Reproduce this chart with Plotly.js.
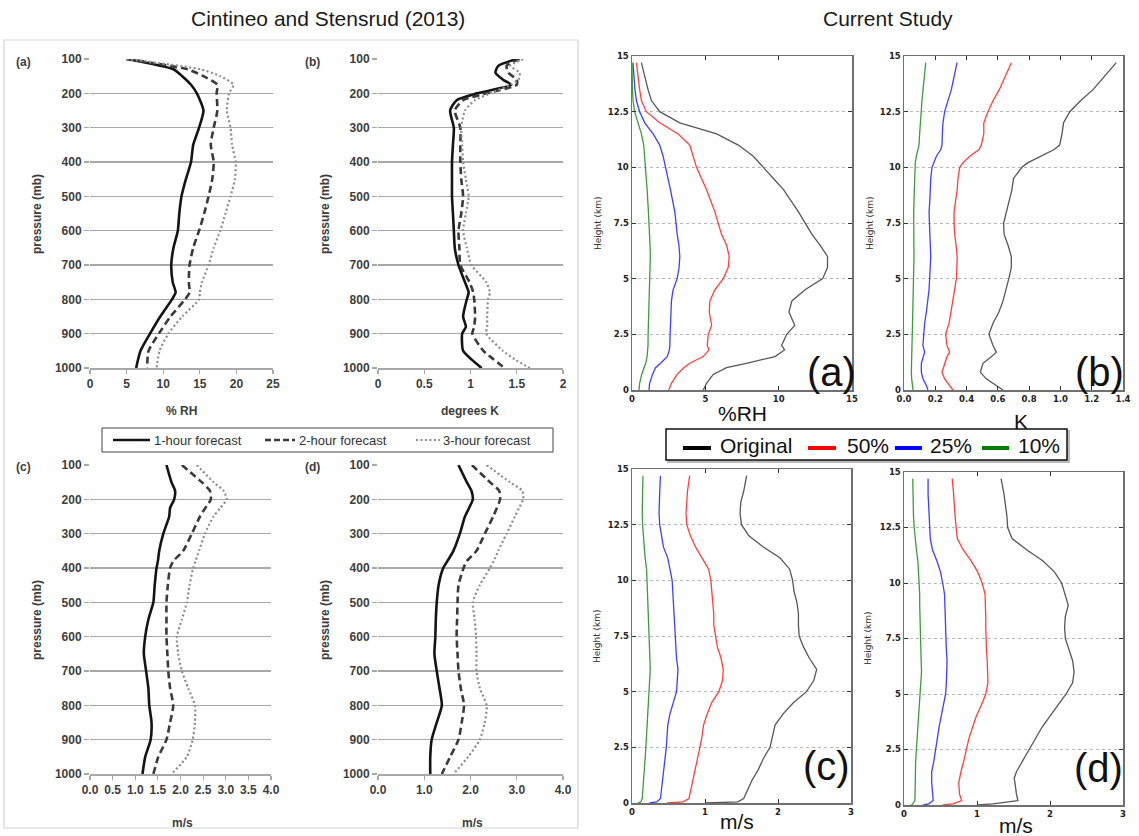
<!DOCTYPE html>
<html>
<head>
<meta charset="utf-8">
<script src="https://cdn.plot.ly/plotly-3.0.1.min.js"></script>
<style>
html,body{margin:0;padding:0;background:#fff;}
#chart{width:1139px;height:836px;}
</style>
</head>
<body>
<div id="chart"></div>
<script>
// ---------------- DATA ----------------
// Cintineo and Stensrud (2013) panels: pressure levels (mb)
const presRH = [100,130,150,175,200,250,300,350,400,450,500,550,600,650,700,750,780,800,850,900,950,1000];
const rh1h = [5.0,11.4,12.6,13.8,14.6,15.5,14.9,14.1,13.8,13.1,12.5,12.2,12.0,11.4,11.1,11.3,11.7,11.2,9.6,8.2,6.9,6.3];
const rh2h = [5.0,13.3,15.5,17.4,17.3,17.4,16.9,16.5,16.9,16.7,16.2,15.6,14.9,14.1,13.6,13.5,13.6,13.0,11.0,9.4,8.0,7.8];
const rh3h = [5.0,15.1,17.8,19.6,19.0,18.7,19.2,19.4,19.9,19.8,19.2,18.5,17.8,16.9,16.2,15.3,15.0,14.9,12.6,10.7,9.5,9.1];

const presK = [100,120,140,160,175,200,220,250,300,350,400,450,500,550,600,650,700,750,780,800,850,880,900,950,975,1000];
const k1h = [1.50,1.30,1.27,1.35,1.44,1.07,0.85,0.78,0.82,0.81,0.80,0.80,0.80,0.81,0.82,0.83,0.87,0.94,0.98,0.96,0.92,0.95,0.91,0.92,1.01,1.12];
const k2h = [1.53,1.39,1.41,1.50,1.50,1.17,0.92,0.83,0.89,0.89,0.89,0.90,0.92,0.90,0.87,0.88,0.89,0.99,1.03,1.04,1.05,1.04,1.02,1.14,1.25,1.37];
const k3h = [1.57,1.43,1.53,1.52,1.43,1.21,1.05,0.94,0.90,0.91,0.92,0.95,0.98,0.95,0.92,0.96,1.01,1.17,1.21,1.19,1.18,1.18,1.17,1.35,1.48,1.64];

const presWC = [100,150,175,200,225,250,300,350,380,400,450,500,550,600,650,700,750,800,850,900,950,1000];
const wc1h = [1.69,1.80,1.88,1.86,1.77,1.75,1.62,1.53,1.50,1.47,1.43,1.40,1.29,1.22,1.19,1.24,1.29,1.31,1.36,1.34,1.22,1.16];
const wc2h = [2.03,2.47,2.65,2.67,2.55,2.43,2.25,2.06,1.84,1.77,1.72,1.69,1.69,1.69,1.71,1.73,1.77,1.84,1.77,1.69,1.51,1.40];
const wc3h = [2.36,2.73,2.95,3.02,2.88,2.73,2.54,2.41,2.33,2.28,2.20,2.14,2.03,1.92,1.95,2.03,2.17,2.32,2.32,2.27,2.14,1.80];

const presWD = [100,150,175,200,225,250,300,350,380,400,450,500,550,600,650,700,750,800,850,900,950,1000];
const wd1h = [1.74,1.92,2.02,2.05,1.97,1.88,1.77,1.63,1.50,1.41,1.31,1.27,1.25,1.24,1.22,1.27,1.33,1.38,1.27,1.16,1.13,1.13];
const wd2h = [2.03,2.42,2.62,2.64,2.57,2.49,2.31,2.13,1.92,1.85,1.74,1.72,1.71,1.70,1.72,1.74,1.79,1.86,1.81,1.74,1.56,1.38];
const wd3h = [2.35,2.85,3.12,3.14,3.05,2.96,2.78,2.60,2.50,2.42,2.20,2.05,2.09,2.12,2.13,2.13,2.20,2.35,2.31,2.20,1.95,1.63];

const forecastNames = ["1-hour forecast","2-hour forecast","3-hour forecast"];

// Current Study panels: height (km)
const hRH = [0,0.3,0.7,1,1.2,1.5,1.8,2,2.5,2.9,3.5,4,4.5,5,5.5,6,6.5,7,8,9,9.5,10,10.5,11,11.5,12,12.5,13,13.5,14.7];
const rhOrig = [4.86,5.08,5.54,6.45,7.8,9.75,10.4,10.2,10.55,11.1,10.7,10.9,11.8,13.0,13.33,13.33,12.83,12.26,11.35,10.33,9.64,8.96,8.27,7.25,5.77,3.26,1.89,1.32,1.09,0.64];
const rh50 = [2.51,2.69,3.08,3.53,3.94,4.85,5.25,5.13,5.2,5.43,5.27,5.31,5.65,6.22,6.56,6.63,6.45,6.1,5.65,5.08,4.74,4.4,4.17,3.94,3.15,1.89,0.98,0.64,0.52,0.3];
const rh25 = [1.16,1.2,1.4,1.6,1.95,2.4,2.55,2.58,2.6,2.64,2.66,2.69,2.8,3.08,3.21,3.26,3.2,3.08,2.92,2.62,2.45,2.3,2.12,1.89,1.44,0.87,0.52,0.3,0.2,0.07];
const rh10 = [0.48,0.52,0.66,0.82,0.93,1.03,1.07,1.09,1.1,1.12,1.13,1.14,1.18,1.21,1.23,1.25,1.23,1.21,1.12,1.03,0.98,0.93,0.87,0.8,0.64,0.41,0.18,0.07,0.03,0.0];

const hK = [0,0.2,0.5,0.8,1.2,1.5,1.7,2,2.5,3,3.5,4,4.5,5,5.5,6,6.5,7,7.5,8,8.5,9,9.5,10,10.2,10.5,10.8,11,11.5,12,12.5,13,13.5,14.7];
const kOrig = [0.633,0.59,0.526,0.488,0.505,0.56,0.59,0.569,0.543,0.569,0.607,0.633,0.654,0.67,0.686,0.686,0.665,0.64,0.637,0.654,0.675,0.69,0.70,0.754,0.79,0.87,0.96,0.995,1.01,1.02,1.06,1.13,1.21,1.357];
const k50 = [0.313,0.292,0.26,0.243,0.26,0.275,0.292,0.275,0.266,0.288,0.30,0.313,0.324,0.335,0.338,0.34,0.333,0.324,0.32,0.32,0.33,0.34,0.345,0.356,0.377,0.42,0.48,0.494,0.51,0.51,0.537,0.57,0.61,0.686];
const k25 = [0.153,0.143,0.121,0.111,0.111,0.125,0.132,0.121,0.125,0.132,0.143,0.153,0.16,0.164,0.168,0.171,0.168,0.164,0.162,0.16,0.165,0.168,0.171,0.179,0.19,0.207,0.235,0.243,0.245,0.249,0.26,0.281,0.303,0.339];
const k10 = [0.058,0.053,0.049,0.047,0.047,0.049,0.05,0.051,0.053,0.055,0.056,0.058,0.06,0.062,0.063,0.064,0.063,0.062,0.062,0.062,0.064,0.066,0.067,0.068,0.072,0.079,0.09,0.096,0.1,0.104,0.108,0.115,0.122,0.139];

const hWC = [0,0.05,0.2,0.5,1,1.5,2,2.5,3,3.5,4,4.5,5,5.5,6,6.5,7,7.5,8,8.5,9,9.5,10,10.5,11,11.5,12,12.5,13,13.5,14,14.7];
const wcOrig = [1.0,1.45,1.53,1.57,1.64,1.73,1.80,1.89,1.93,1.96,2.07,2.21,2.39,2.49,2.53,2.43,2.35,2.29,2.28,2.28,2.26,2.22,2.20,2.16,2.03,1.80,1.60,1.50,1.48,1.49,1.53,1.57];
const wc50 = [0.48,0.70,0.78,0.80,0.84,0.87,0.90,0.93,0.96,0.98,1.03,1.09,1.19,1.24,1.25,1.22,1.17,1.14,1.12,1.12,1.11,1.10,1.08,1.05,0.96,0.87,0.80,0.75,0.74,0.745,0.76,0.79];
const wc25 = [0.24,0.34,0.39,0.40,0.42,0.44,0.46,0.47,0.48,0.49,0.52,0.57,0.61,0.62,0.63,0.61,0.60,0.59,0.58,0.575,0.57,0.56,0.55,0.52,0.49,0.43,0.40,0.38,0.37,0.37,0.38,0.39];
const wc10 = [0.08,0.12,0.14,0.145,0.16,0.17,0.18,0.19,0.20,0.205,0.21,0.225,0.24,0.245,0.25,0.245,0.24,0.235,0.23,0.225,0.22,0.215,0.21,0.20,0.18,0.165,0.15,0.145,0.14,0.145,0.15,0.15];

const hWD = [0,0.05,0.2,0.5,1,1.2,1.5,2,2.5,3,3.5,4,4.5,5,5.5,6,6.5,7,7.5,8,8.5,9,9.5,10,10.5,11,11.5,12,12.5,13,14,14.7];
const wdOrig = [1.01,1.22,1.56,1.54,1.52,1.51,1.54,1.63,1.72,1.80,1.89,2.00,2.11,2.22,2.31,2.33,2.31,2.26,2.21,2.20,2.21,2.25,2.21,2.16,2.06,1.90,1.68,1.48,1.42,1.41,1.37,1.33];
const wd50 = [0.53,0.67,0.79,0.76,0.75,0.76,0.78,0.82,0.85,0.89,0.94,0.99,1.06,1.12,1.15,1.15,1.14,1.13,1.12,1.12,1.12,1.12,1.11,1.07,1.01,0.92,0.81,0.73,0.71,0.70,0.68,0.66];
const wd25 = [0.26,0.34,0.40,0.39,0.38,0.38,0.38,0.41,0.43,0.45,0.48,0.51,0.54,0.57,0.58,0.59,0.59,0.58,0.575,0.57,0.565,0.56,0.555,0.53,0.50,0.45,0.39,0.36,0.35,0.34,0.33,0.33];
const wd10 = [0.10,0.12,0.15,0.15,0.15,0.15,0.155,0.16,0.17,0.18,0.19,0.20,0.21,0.22,0.23,0.24,0.235,0.23,0.225,0.22,0.22,0.215,0.215,0.21,0.20,0.19,0.17,0.15,0.14,0.13,0.125,0.12];

const studyNames = ["Original","50%","25%","10%"];

// ---------------- HELPERS ----------------
const W = 1139, H = 836;
const X = v => v / W;
const Y = v => 1 - v / H;

const leftStyles = [
  {color:'#141414', width:2.6},
  {color:'#3a3a3a', width:2.6, dash:'7px,4px'},
  {color:'#8c8c8c', width:2.2, dash:'2px,2.5px'}
];
const rightColors = ['#454545','#ff2a2a','#2a2aff','#2a8f2a'];

const traces = [];
function addLeft(idx, pres, series){
  series.forEach((s,j)=>{
    traces.push({
      x:s, y:pres, xaxis:'x'+(idx===1?'':idx), yaxis:'y'+(idx===1?'':idx),
      type:'scatter', mode:'lines', name:forecastNames[j], showlegend:false,
      line:Object.assign({shape:'spline', smoothing:0.6}, leftStyles[j]), hoverinfo:'skip'
    });
  });
}
function addRight(idx, h, series){
  series.forEach((s,j)=>{
    traces.push({
      x:s, y:h, xaxis:'x'+idx, yaxis:'y'+idx,
      type:'scatter', mode:'lines', name:studyNames[j], showlegend:false,
      line:{color:rightColors[j], width:1.3}, opacity:0.9, hoverinfo:'skip'
    });
  });
}
addLeft(1, presRH, [rh1h, rh2h, rh3h]);
addLeft(2, presK,  [k1h, k2h, k3h]);
addLeft(3, presWC, [wc1h, wc2h, wc3h]);
addLeft(4, presWD, [wd1h, wd2h, wd3h]);
addRight(5, hRH, [rhOrig, rh50, rh25, rh10]);
addRight(6, hK,  [kOrig, k50, k25, k10]);
addRight(7, hWC, [wcOrig, wc50, wc25, wc10]);
addRight(8, hWD, [wdOrig, wd50, wd25, wd10]);

// ---------------- AXES ----------------
const leftFont = {family:'Liberation Sans, Arial, sans-serif', size:12, color:'#3d3d3d', weight:'bold'};
const gridGray = '#a8a8a8';
function leftY(y0, y1, anchor){
  return {domain:[Y(y1), Y(y0)], range:[1000,100], autorange:false, tick0:100, dtick:100,
    showgrid:true, gridcolor:gridGray, gridwidth:1.6, zeroline:false, showline:false,
    ticks:'outside', ticklen:5, tickwidth:1.4, tickcolor:gridGray, tickfont:leftFont,
    anchor:anchor, fixedrange:true};
}
function leftX(x0, x1, range, dtick, fmt, anchor){
  const o = {domain:[X(x0), X(x1)], range:range, autorange:false, tick0:0, dtick:dtick,
    showgrid:false, zeroline:false, showline:true, linecolor:gridGray, linewidth:1.6,
    ticks:'outside', ticklen:4, tickwidth:1.2, tickcolor:gridGray, tickfont:leftFont,
    anchor:anchor, fixedrange:true};
  if (fmt) o.tickformat = fmt;
  return o;
}
const rightFont = {family:'DejaVu Sans, sans-serif', size:8.5, color:'#222', weight:'bold'};
function rightX(x0, x1, range, dtick, fmt, anchor){
  const o = {domain:[X(x0), X(x1)], range:range, autorange:false, tick0:0, dtick:dtick,
    showgrid:false, zeroline:false, showline:true, mirror:'ticks', linecolor:'#707070', linewidth:1.5,
    ticks:'inside', ticklen:4, tickwidth:1, tickcolor:'#333', tickfont:rightFont,
    anchor:anchor, fixedrange:true};
  if (fmt) o.tickformat = fmt;
  return o;
}
function rightY(y0, y1, anchor){
  return {domain:[Y(y1), Y(y0)], range:[0,15], autorange:false, tick0:0, dtick:2.5,
    showgrid:true, gridcolor:'#b8b8b8', griddash:'dot', gridwidth:1,
    zeroline:false, showline:true, mirror:'ticks', linecolor:'#707070', linewidth:1.5,
    ticks:'inside', ticklen:4, tickwidth:1, tickcolor:'#333', tickfont:rightFont,
    anchor:anchor, fixedrange:true};
}

// ---------------- ANNOTATIONS ----------------
const annotations = [];
function ann(text, x, y, font, extra){
  annotations.push(Object.assign({text:text, x:X(x), y:Y(y), xref:'paper', yref:'paper',
    showarrow:false, xanchor:'center', yanchor:'middle', font:font}, extra||{}));
}
const titleFont = {family:'Liberation Sans, Arial, sans-serif', size:21, color:'#1a1a1a'};
ann('Cintineo and Stensrud (2013)', 328, 19, titleFont);
ann('Current Study', 888, 19, titleFont);

const lblFont = {family:'Liberation Sans, Arial, sans-serif', size:12, color:'#3d3d3d', weight:'bold'};
ann('(a)', 23, 62, lblFont);
ann('(b)', 312, 62, lblFont);
ann('(c)', 23, 467, lblFont);
ann('(d)', 312, 467, lblFont);
ann('pressure (mb)', 37, 214, lblFont, {textangle:-90});
ann('pressure (mb)', 325, 214, lblFont, {textangle:-90});
ann('pressure (mb)', 37, 620, lblFont, {textangle:-90});
ann('pressure (mb)', 325, 620, lblFont, {textangle:-90});
ann('% RH', 181, 411, lblFont);
ann('degrees K', 470, 411, lblFont);
ann('m/s', 182, 823, lblFont);
ann('m/s', 472, 823, lblFont);

const hFont = {family:'DejaVu Sans, sans-serif', size:9, color:'#333'};
ann('Height (km)', 598, 223, hFont, {textangle:-90});
ann('Height (km)', 870, 223, hFont, {textangle:-90});
ann('Height (km)', 597, 636, hFont, {textangle:-90});
ann('Height (km)', 868, 638, hFont, {textangle:-90});

const bigFont = {family:'Liberation Sans, Arial, sans-serif', size:21, color:'#111'};
ann('%RH', 742, 413, bigFont);
ann('K', 1021, 421, bigFont);
ann('m/s', 737, 821, bigFont);
ann('m/s', 1016, 825, bigFont);

const panelFont = {family:'Liberation Sans, Arial, sans-serif', size:40, color:'#111'};
ann('(a)', 831, 372, panelFont);
ann('(b)', 1099, 372, panelFont);
ann('(c)', 826, 766, panelFont);
ann('(d)', 1098, 768, panelFont);

// Legend texts
const legLFont = {family:'Liberation Sans, Arial, sans-serif', size:13, color:'#333'};
ann(forecastNames[0], 152, 440, legLFont, {xanchor:'left'});
ann(forecastNames[1], 297, 440, legLFont, {xanchor:'left'});
ann(forecastNames[2], 441, 440, legLFont, {xanchor:'left'});
const legRFont = {family:'Liberation Sans, Arial, sans-serif', size:21, color:'#111'};
ann(studyNames[0], 718, 446, legRFont, {xanchor:'left'});
ann(studyNames[1], 845, 446, legRFont, {xanchor:'left'});
ann(studyNames[2], 928, 446, legRFont, {xanchor:'left'});
ann(studyNames[3], 1016, 446, legRFont, {xanchor:'left'});

// ---------------- SHAPES (frames and legend keys) ----------------
const shapes = [];
function rect(x0,y0,x1,y1,line,fill){
  shapes.push({type:'rect', xref:'paper', yref:'paper', x0:X(x0), x1:X(x1), y0:Y(y1), y1:Y(y0),
    line:line, fillcolor:fill||'rgba(0,0,0,0)', layer:'below'});
}
function seg(x0,x1,y,line){
  shapes.push({type:'line', xref:'paper', yref:'paper', x0:X(x0), x1:X(x1), y0:Y(y), y1:Y(y), line:line});
}
// frame round the left reproduction
rect(4, 40, 578, 828, {color:'#d4d4d4', width:1.2});
// left legend
shapes.push({type:'rect', xref:'paper', yref:'paper', x0:X(102), x1:X(553), y0:Y(452), y1:Y(428),
  line:{color:'#444', width:1}, fillcolor:'#fff'});
seg(113,150,440,{color:leftStyles[0].color, width:2.6});
seg(265,295,440,{color:leftStyles[1].color, width:2.6, dash:'6px,3px'});
seg(416,440,440,{color:leftStyles[2].color, width:2.2, dash:'2px,2.5px'});
// right legend
shapes.push({type:'rect', xref:'paper', yref:'paper', x0:X(668), x1:X(1069), y0:Y(462), y1:Y(431),
  line:{color:'#bbb', width:2}, fillcolor:'#bbb', layer:'below'});
shapes.push({type:'rect', xref:'paper', yref:'paper', x0:X(666), x1:X(1067), y0:Y(460), y1:Y(429),
  line:{color:'#111', width:1.5}, fillcolor:'#fff', layer:'below'});
seg(683,711,448,{color:'#000', width:4});
seg(808,836,448,{color:'#ff0000', width:4});
seg(895,922,448,{color:'#0000ff', width:4});
seg(982,1009,448,{color:'#007f00', width:4});

// ---------------- LAYOUT ----------------
const layout = {
  width:W, height:H, margin:{l:0,r:0,t:0,b:0},
  paper_bgcolor:'#fff', plot_bgcolor:'rgba(0,0,0,0)', showlegend:false,
  xaxis:  leftX(90, 273, [0,25], 5, null, 'y'),
  yaxis:  leftY(59, 368, 'x'),
  xaxis2: leftX(378, 563, [0,2], 0.5, null, 'y2'),
  yaxis2: leftY(59, 368, 'x2'),
  xaxis3: leftX(90, 271, [0,4], 0.5, '.1f', 'y3'),
  yaxis3: leftY(465, 774, 'x3'),
  xaxis4: leftX(378, 563, [0,4], 1, '.1f', 'y4'),
  yaxis4: leftY(465, 774, 'x4'),
  xaxis5: rightX(632, 852, [0,15], 5, null, 'y5'),
  yaxis5: rightY(56, 390, 'x5'),
  xaxis6: rightX(904, 1123, [0,1.4], 0.2, '.1f', 'y6'),
  yaxis6: rightY(56, 390, 'x6'),
  xaxis7: rightX(632, 851, [0,3], 1, null, 'y7'),
  yaxis7: rightY(469, 803, 'x7'),
  xaxis8: rightX(904, 1123, [0,3], 1, null, 'y8'),
  yaxis8: rightY(472, 805, 'x8'),
  annotations:annotations, shapes:shapes
};

Plotly.newPlot('chart', traces, layout, {staticPlot:true, displayModeBar:false});
</script>
</body>
</html>
